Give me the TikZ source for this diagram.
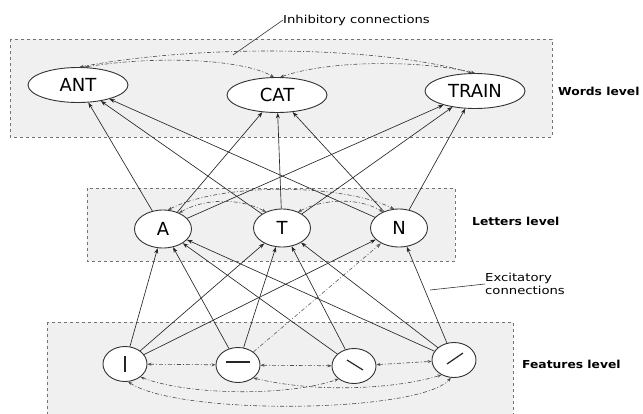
\documentclass[tikz,border=0pt]{standalone}
\usepackage{fontspec}
\setmainfont{DejaVu Sans}
\newfontfamily\lblfont[FakeStretch=1.12]{DejaVu Sans}
\newfontfamily\notefont[FakeStretch=1.2]{DejaVu Sans}
\usetikzlibrary{shapes.geometric,arrows.meta}
\begin{document}
\begin{tikzpicture}[x=1pt,y=-1pt,
  nodebase/.style={ellipse,draw=black!80,line width=0.9pt,fill=white,inner sep=0pt,font=\fontsize{18}{18}\selectfont},
  word/.style={nodebase,minimum width=100pt,minimum height=35pt},
  letter/.style={nodebase,minimum width=57pt,minimum height=38pt},
  feat/.style={nodebase,minimum width=44pt,minimum height=35pt},
  exc/.style={draw=black!85,line width=0.65pt,-{Stealth[length=5.5pt,width=4pt]}},
  excdash/.style={exc,dash pattern=on 4pt off 2pt on 1pt off 2pt,draw=black!60},
  inh/.style={draw=black!70,line width=0.6pt,dash pattern=on 4pt off 2pt on 1pt off 2pt,{Stealth[length=4pt,width=3pt]}-{Stealth[length=4pt,width=3pt]}},
  levelbox/.style={draw=black!55,dashed,fill=black!6,line width=0.6pt},
  lvl/.style={font=\lblfont\bfseries\fontsize{11}{12}\selectfont,anchor=west,inner sep=0pt},
  note/.style={font=\notefont\fontsize{11}{13}\selectfont,anchor=west,inner sep=0pt,align=left},
  glyph/.style={draw=black!85,line width=1.2pt}
]
\useasboundingbox (0,0) rectangle (643,413);
% level boxes
\draw[levelbox] (10,39) rectangle (552,137);
\draw[levelbox] (87,188) rectangle (455,261);
\draw[levelbox] (47,322) rectangle (513,430);

% nodes
\node[word] (ANT) at (78,85) {ANT};
\node[word] (CAT) at (277,95) {CAT};
\node[word] (TRAIN) at (475,91) {TRAIN};
\node[letter] (A) at (163,229) {A};
\node[letter] (T) at (282,228) {T};
\node[letter] (N) at (399,228) {N};
\node[feat] (fV) at (125,364) {};
\node[feat] (fH) at (238,365) {};
\node[feat] (fB) at (354,366) {};
\node[feat] (fS) at (454,360) {};
% feature glyphs
\draw[glyph] (125,356) -- (125,372);
\draw[glyph] (226,362) -- (250,362);
\draw[glyph] (347,360) -- (363,370);
\draw[glyph] (447,364) -- (463,353);

% labels
\node[note] (inhtxt) at (283,20) {Inhibitory connections};
\node[lvl] at (558,91) {Words level};
\node[lvl] at (472,221) {Letters level};
\node[lvl] at (522,364) {Features level};
\node[note] (exctxt) at (485,284) {Excitatory\\connections};
\coordinate (ip) at (233,55);
\coordinate (ep) at (430,290);
\draw[black!80,line width=0.6pt] (inhtxt.west) -- (ip);
\draw[black!80,line width=0.6pt] (exctxt.west) -- (ep);

% excitatory: letters -> words
\foreach \l in {A,T,N}{
  \foreach \w in {ANT,CAT,TRAIN}{
    \draw[exc] (\l) -- (\w);
  }
}
% excitatory: features -> letters
\draw[exc] (fV) -- (A);
\draw[exc] (fV) -- (T);
\draw[exc] (fV) -- (N);
\draw[exc] (fH) -- (A);
\draw[exc] (fH) -- (T);
\draw[excdash] (fH) -- (N);
\draw[exc] (fB) -- (A);
\draw[exc] (fB) -- (T);
\draw[exc] (fS) -- (A);
\draw[exc] (fS) -- (T);
\draw[exc] (fS) -- (N);

% inhibitory: words
\draw[inh] (ANT.85) .. controls (200,44) and (380,46) .. (TRAIN.100);
\draw[inh] (ANT.70) .. controls (150,56) and (240,58) .. (CAT.100);
\draw[inh] (CAT.80) .. controls (330,60) and (420,60) .. (TRAIN.90);
% inhibitory: letters
\draw[inh] (A.45) .. controls (205,198) and (240,198) .. (T.135);
\draw[inh] (T.45) .. controls (325,198) and (360,198) .. (N.135);
\draw[inh] (A.75) .. controls (220,183) and (340,183) .. (N.105);
% inhibitory: features
\draw[inh] (fV) -- (fH);
\draw[inh] (fH) -- (fB);
\draw[inh] (fB) -- (fS);
\draw[inh] (fV.-40) .. controls (190,396) and (290,396) .. (fB.-140);
\draw[inh] (fH.-40) .. controls (320,394) and (400,388) .. (fS.-130);
\draw[inh] (fV.-80) .. controls (180,416) and (420,413) .. (fS.-100);
\end{tikzpicture}
\end{document}
